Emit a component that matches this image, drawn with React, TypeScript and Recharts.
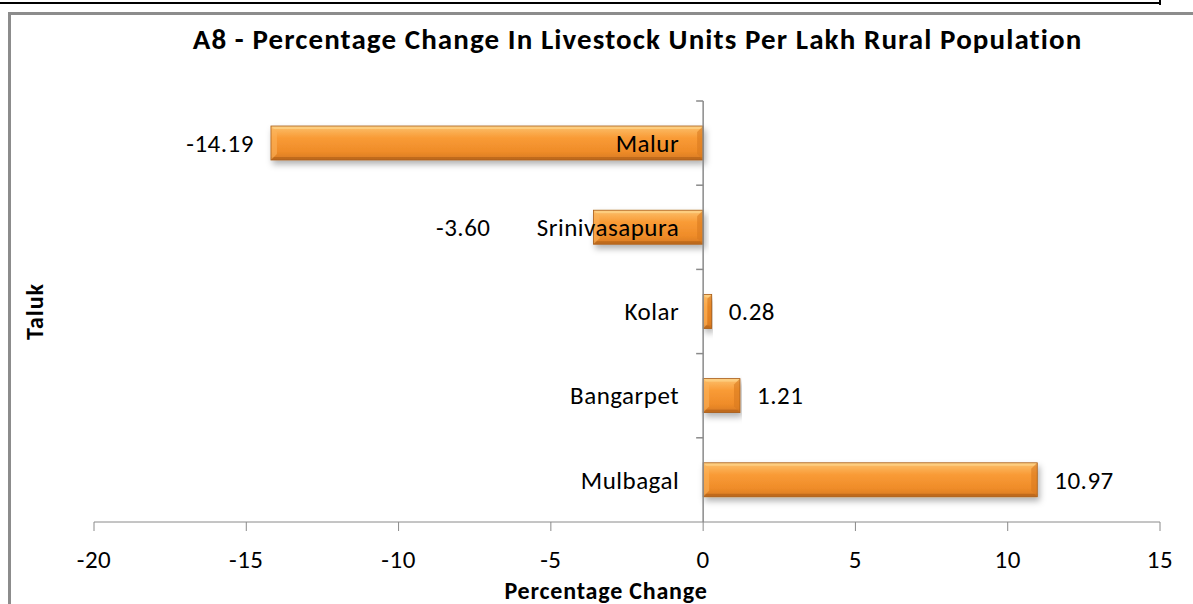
import {
  BarChart,
  Bar,
  XAxis,
  YAxis,
  ReferenceLine,
  LabelList
} from 'recharts';

const taluks = ['Malur', 'Srinivasapura', 'Kolar', 'Bangarpet', 'Mulbagal'];
const pctChange = [-14.19, -3.6, 0.28, 1.21, 10.97];
const xTicks = [-20, -15, -10, -5, 0, 5, 10, 15];

const data = taluks.map((name, i) => ({ name, value: pctChange[i] }));

const FONT = "Carlito, Lato, 'Open Sans', sans-serif";
const AXIS_GRAY = '#8a8a8a';
const LABEL_SIZE = 25;
const LABEL_SPACING = 0.5;

// bevelled orange bar like the office chart style
const BevelBar = (props: any) => {
  const { x, y, width, height } = props;
  const left = Math.min(x, x + width);
  const w = Math.abs(width);
  if (!w) return null;
  const b = Math.min(6, w / 2);
  return (
    <g filter="url(#barShadow)">
      <rect x={left} y={y} width={w} height={height} fill="url(#barFill)" />
      <rect x={left} y={y} width={w} height={3} fill="#fdd084" opacity={0.85} />
      <rect x={left} y={y + height - 3} width={w} height={3} fill="#b8671d" opacity={0.8} />
      <polygon
        points={`${left},${y} ${left + b},${y + b} ${left + b},${y + height - b} ${left},${y + height}`}
        fill="#fbb25a"
        opacity={0.6}
      />
      <polygon
        points={`${left + w},${y} ${left + w - b},${y + b} ${left + w - b},${y + height - b} ${left + w},${y + height}`}
        fill="#d9791f"
        opacity={0.6}
      />
      <rect x={left} y={y} width={w} height={height} fill="none" stroke="#a85e1b" strokeWidth={0.8} />
    </g>
  );
};

const ValueLabel = (props: any) => {
  const { x, y, width, height, value, index } = props;
  const start = Math.min(x, x + width);
  const end = Math.max(x, x + width);
  const cy = y + height / 2;
  const common = {
    y: cy,
    dy: '0.35em',
    fontSize: LABEL_SIZE,
    fontFamily: FONT,
    letterSpacing: LABEL_SPACING,
    fill: '#000'
  };
  if (value >= 0) {
    return (
      <text x={end + 17} {...common}>
        {value.toFixed(2)}
      </text>
    );
  }
  // keep clear of the category name drawn next to the zero line
  const nameStart = end - 24 - taluks[index].length * 11.2;
  const right = Math.min(start - 17, nameStart - 43);
  return (
    <text x={right} textAnchor="end" {...common}>
      {value.toFixed(2)}
    </text>
  );
};

// category names and tick marks sit on the zero line
const ZeroAxis = (props: any) => {
  const { viewBox } = props;
  if (!viewBox) return null;
  const { x, y, height } = viewBox;
  const band = height / taluks.length;
  return (
    <g>
      {taluks.map((t, i) => (
        <g key={t}>
          <line x1={x - 7} x2={x} y1={y + i * band} y2={y + i * band} stroke={AXIS_GRAY} strokeWidth={1.5} />
          <text
            x={x - 24}
            y={y + (i + 0.5) * band}
            dy="0.35em"
            textAnchor="end"
            fontSize={LABEL_SIZE}
            letterSpacing={LABEL_SPACING}
            fontFamily={FONT}
            fill="#000"
          >
            {t}
          </text>
        </g>
      ))}
    </g>
  );
};

export default function App() {
  return (
    <div
      style={{
        position: 'absolute',
        left: 0,
        top: 0,
        width: 1193,
        height: 604,
        overflow: 'hidden',
        background: '#fff',
        fontFamily: FONT
      }}
    >
      <div style={{ position: 'absolute', left: 0, top: 2, width: 1161, height: 2, background: '#000' }} />
      <div style={{ position: 'absolute', left: 1159, top: 0, width: 2, height: 5, background: '#000' }} />
      <div
        style={{
          position: 'absolute',
          left: 8,
          top: 12,
          width: 1250,
          height: 700,
          border: '3px solid #8c8c8c',
          boxSizing: 'border-box'
        }}
      />
      <div
        style={{
          position: 'absolute',
          left: 0,
          width: 1275,
          top: 22,
          textAlign: 'center',
          fontWeight: 'bold',
          fontSize: 29,
          letterSpacing: 1.1,
          lineHeight: 1.2,
          whiteSpace: 'nowrap',
          color: '#000'
        }}
      >
        A8 - Percentage Change In Livestock Units Per Lakh Rural Population
      </div>
      <div style={{ position: 'absolute', left: 0, top: 0 }}>
        <BarChart
          width={1193}
          height={604}
          layout="vertical"
          data={data}
          margin={{ top: 101, right: 33, bottom: 0, left: 10 }}
          barSize={34}
        >
          <defs>
            <linearGradient id="barFill" x1="0" y1="0" x2="0" y2="1">
              <stop offset="0%" stopColor="#fcc06c" />
              <stop offset="35%" stopColor="#f99b36" />
              <stop offset="75%" stopColor="#ef8c29" />
              <stop offset="100%" stopColor="#d77a22" />
            </linearGradient>
            <filter id="barShadow" x="-5%" y="-20%" width="110%" height="160%">
              <feDropShadow dx="2" dy="4" stdDeviation="3" floodColor="#000" floodOpacity="0.3" />
            </filter>
          </defs>
          <XAxis
            type="number"
            domain={[-20, 15]}
            ticks={xTicks}
            height={82}
            tickSize={9}
            tickMargin={19}
            stroke={AXIS_GRAY}
            tick={{ fill: '#000', fontSize: LABEL_SIZE, fontFamily: FONT, letterSpacing: LABEL_SPACING }}
            label={{
              value: 'Percentage Change',
              position: 'insideBottom',
              offset: 5,
              dx: -21,
              style: {
                fontWeight: 'bold',
                fontSize: 24,
                letterSpacing: 0.8,
                fontFamily: FONT,
                fill: '#000'
              }
            }}
          />
          <YAxis
            type="category"
            dataKey="name"
            width={84}
            tick={false}
            tickLine={false}
            axisLine={false}
            label={{
              value: 'Taluk',
              angle: -90,
              position: 'insideLeft',
              offset: 24,
              style: {
                textAnchor: 'middle',
                fontWeight: 'bold',
                fontSize: 24,
                letterSpacing: 1,
                fontFamily: FONT,
                fill: '#000'
              }
            }}
          />
          <ReferenceLine x={0} stroke={AXIS_GRAY} strokeWidth={1.5} label={<ZeroAxis />} />
          <Bar dataKey="value" shape={<BevelBar />} isAnimationActive={false}>
            <LabelList dataKey="value" content={<ValueLabel />} />
          </Bar>
        </BarChart>
      </div>
    </div>
  );
}
